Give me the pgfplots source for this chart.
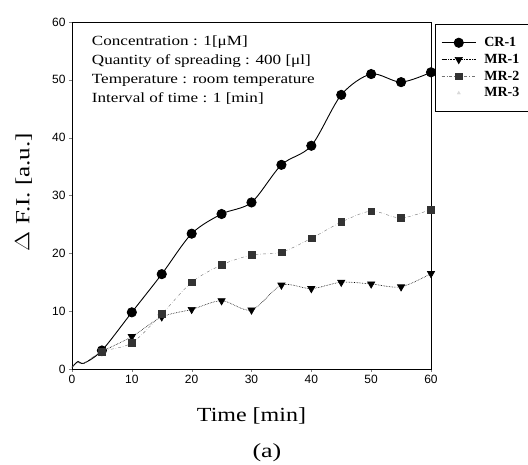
\documentclass[border=0pt]{standalone}
\usepackage{fontspec}
\setmainfont{Liberation Serif}
\setsansfont{Liberation Sans}
\usepackage{graphicx}
\usepackage{pgfplots}
\pgfplotsset{compat=1.18}
\begin{document}
\begin{tikzpicture}
\path[use as bounding box] (0pt,0pt) rectangle (528pt,465pt);
\begin{axis}[
  at={(72pt,96pt)}, anchor=south west,
  scale only axis, width=359pt, height=347pt,
  xmin=0, xmax=60, ymin=0, ymax=60,
  xtick={0,10,20,30,40,50,60}, ytick={0,10,20,30,40,50,60},
  tick align=outside, major tick length=3pt,
  xtick pos=bottom, ytick pos=left,
  ticklabel style={font=\sffamily\fontsize{12}{14}\selectfont},
  /pgf/number format/assume math mode=true,
  xlabel={\scalebox{1.2}[1]{Time [min]}},
  ylabel={\scalebox{1.25}[1]{$\Delta$ F.I. [a.u.]}},
  xlabel style={font=\fontsize{20}{22}\selectfont, at={(axis description cs:0.5,-0.135)}, anchor=center},
  ylabel style={font=\fontsize{20}{22}\selectfont, at={(axis description cs:-0.135,0.51)}, anchor=center},
  axis line style={line width=0.8pt},
  legend style={at={(1.011,0.994)}, anchor=north west, draw=black, line width=0.6pt,
     font=\bfseries\fontsize{14}{15}\selectfont, row sep=2pt, column sep=6pt,
     inner xsep=6pt, inner ysep=11pt, cells={anchor=west}, text width=44pt},
  legend image code/.code={\draw[#1, mark indices={2}] plot coordinates {(0cm,0cm) (0.6cm,0cm) (1.2cm,0cm)};},
  clip=false,
]
\addplot[black, line width=0.9pt, smooth, tension=0.5, mark=*, mark size=4.6pt,
  mark indices={4,5,6,7,8,9,10,11,12,13,14,15}] coordinates {
  (0,0.3) (1,1.3) (2,1.0) (5,3.2) (10,9.8) (15,16.4) (20,23.4) (25,26.8) (30,28.8)
  (35,35.3) (40,38.6) (45,47.4) (50,51.0) (55,49.6) (60,51.3)};
\addlegendentry{CR-1}
\addplot[black, densely dotted, line width=0.6pt, smooth, tension=0.5, mark=triangle*, mark size=4.2pt,
  mark options={solid, rotate=180},
  mark indices={4,5,6,7,8,9,10,11,12,13,14,15}] coordinates {
  (0,0.3) (1,1.2) (2,1.0) (5,3.0) (10,5.6) (15,9.0) (20,10.3) (25,11.8) (30,10.2)
  (35,14.5) (40,13.9) (45,15.0) (50,14.7) (55,14.2) (60,16.5)};
\addlegendentry{MR-1}
\addplot[black!55, dash dot, line width=0.4pt, smooth, tension=0.5, mark=square*, mark size=3.4pt,
  mark options={solid, fill=black!80, draw=black!80},
  mark indices={4,5,6,7,8,9,10,11,12,13,14,15}] coordinates {
  (0,0.3) (1,1.1) (2,1.0) (5,3.0) (10,4.5) (15,9.5) (20,15.0) (25,18.0) (30,19.7)
  (35,20.2) (40,22.6) (45,25.4) (50,27.3) (55,26.1) (60,27.6)};
\addlegendentry{MR-2}
\addlegendimage{white, line width=0.1pt, mark=triangle*, mark size=2pt, mark options={fill=black!15, draw=black!15}}
\addlegendentry{MR-3}
\node[anchor=north west, align=left, font=\fontsize{14}{19}\selectfont, inner sep=0pt, xscale=1.22]
  at (axis description cs:0.055,0.96)
  {Concentration : 1[μM]\\ Quantity of spreading : 400 [μl]\\ Temperature : room temperature\\ Interval of time : 1 [min]};
\node[font=\fontsize{20}{22}\selectfont] at (axis description cs:0.543,-0.242) {\scalebox{1.3}[1]{(a)}};
\end{axis}
\end{tikzpicture}
\end{document}
